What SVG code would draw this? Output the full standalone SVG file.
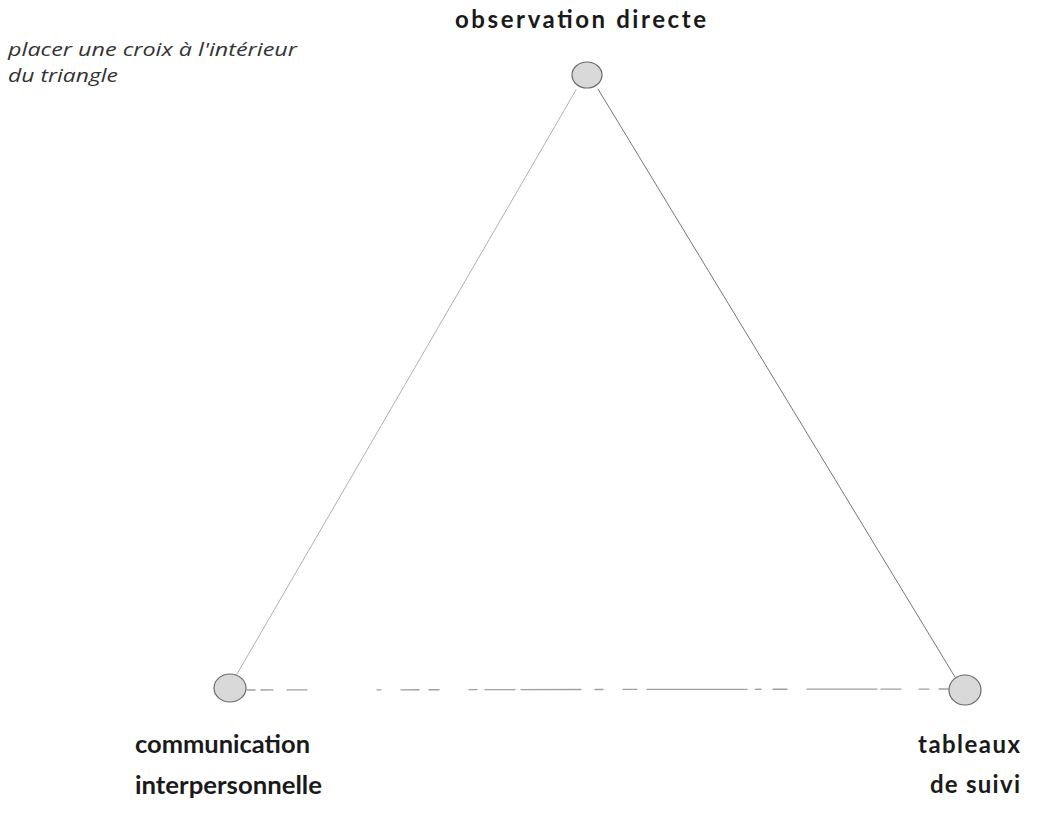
<svg xmlns="http://www.w3.org/2000/svg" width="1045" height="814" viewBox="0 0 1045 814">
  <style>
    .lbl { font-family: Lato, "Open Sans", "Liberation Sans", sans-serif; font-weight: bold; font-size: 24px; fill: #1a1a1a; }
    .note { font-family: "Open Sans", Lato, "Liberation Sans", sans-serif; font-style: italic; font-size: 17.5px; fill: #333; }
    .vertex { fill: #d9d9d9; stroke: #6a6a6a; stroke-width: 1.2; }
    .edge { fill: none; stroke-linecap: round; }
  </style>
  <rect width="1045" height="814" fill="#ffffff"/>

  <text class="note" x="8" y="56" textLength="289" lengthAdjust="spacingAndGlyphs">placer une croix à l'intérieur</text>
  <text class="note" x="8" y="82" textLength="110" lengthAdjust="spacingAndGlyphs">du triangle</text>

  <!-- triangle sides -->
  <g id="connectors">
    <line class="edge" x1="576" y1="90" x2="237" y2="674" stroke="#b0b0b0" stroke-width="1"/>
    <line class="edge" x1="598" y1="89" x2="955" y2="677" stroke="#777777" stroke-width="1"/>
    <line class="edge" x1="247" y1="690" x2="948" y2="689" stroke="#a0a0a0" stroke-width="1.3" stroke-dasharray="8 6 12 14 20 70 4 20 18 10 10 30 8 8 30 6 60 14 8 20 14 10 100"/>
  </g>

  <g id="node-observation">
    <ellipse class="vertex" cx="587" cy="75" rx="15" ry="13"/>
    <text class="lbl" x="455" y="28" textLength="251" lengthAdjust="spacing">observation directe</text>
  </g>

  <g id="node-communication">
    <ellipse class="vertex" cx="230" cy="688" rx="16" ry="14"/>
    <text class="lbl" x="135" y="753" textLength="175" lengthAdjust="spacingAndGlyphs">communication</text>
    <text class="lbl" x="135" y="794" textLength="187" lengthAdjust="spacingAndGlyphs">interpersonnelle</text>
  </g>

  <g id="node-tableaux">
    <ellipse class="vertex" cx="965" cy="690" rx="16" ry="15"/>
    <text class="lbl" x="918" y="753" textLength="102" lengthAdjust="spacing">tableaux</text>
    <text class="lbl" x="930" y="793" textLength="90" lengthAdjust="spacing">de suivi</text>
  </g>
</svg>
